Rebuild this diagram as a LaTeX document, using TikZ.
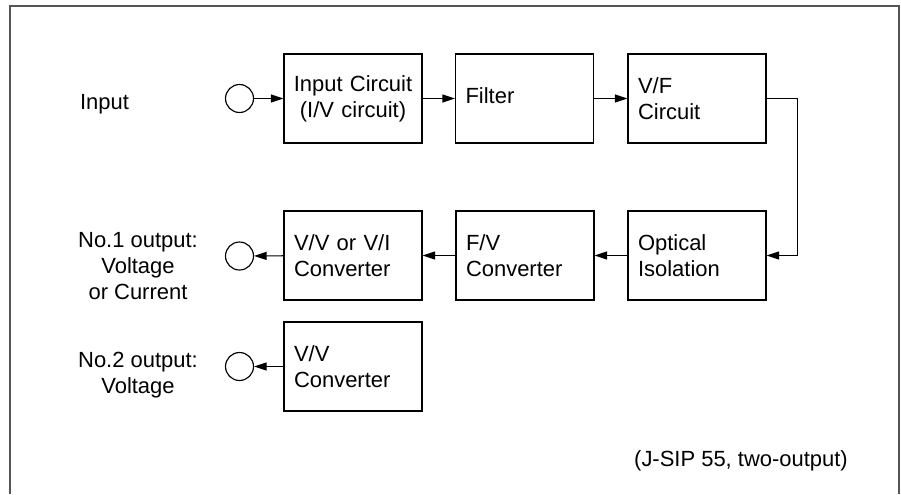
\documentclass[tikz,border=0pt]{standalone}
\usepackage{fontspec}
\setmainfont{Liberation Sans}
\usetikzlibrary{arrows.meta}
\definecolor{framegray}{HTML}{555555}

\begin{document}
\begin{tikzpicture}[x=0.02cm, y=-0.02cm,
  n/.style={draw, line width=0.65pt, minimum width=2.76cm, minimum height=1.78cm, text width=2.36cm, inner xsep=0.2cm, align=left, font=\fontsize{12.5}{14.6}\selectfont},
  port/.style={draw, circle, line width=0.65pt, minimum size=0.56cm, inner sep=0pt},
  lbl/.style={align=center, font=\fontsize{12.5}{14.6}\selectfont},
  arrow/.style={-{Triangle[length=2.5mm, width=1.6mm]}, line width=0.65pt}
]
  \useasboundingbox (0,0) rectangle (901,494);
  \draw[framegray, line width=1.1pt] (10,494) -- (10,6) -- (899,6) -- (899,494);

  \node[lbl] (inlbl) at (104.5,104) {Input};
  \node[port] (inport) at (239.5,98.5) {};
  \node[n, text width=2.6cm, inner xsep=0.08cm, align=center] (incirc) at (353,98.5) {Input Circuit\\(I/V circuit)};
  \node[n] (filter) at (524.5,98.5) {\strut Filter};
  \node[n] (vf) at (697,98.5) {V/F\\Circuit};

  \node[n] (opto) at (697,255.5) {Optical\\Isolation};
  \node[n] (fv) at (525,255.5) {F/V\\Converter};
  \node[n] (vvi) at (353,255.5) {V/V or V/I\\Converter};
  \node[port] (out1) at (239.5,256) {};
  \node[lbl] (out1lbl) at (138,266) {No.1 output:\\Voltage\\or Current};

  \node[n] (vv) at (353,366.5) {V/V\\Converter};
  \node[port] (out2) at (239.5,366.5) {};
  \node[lbl] (out2lbl) at (138,375) {No.2 output:\\Voltage};

  \node[lbl, anchor=east] (note) at (854,461) {(J-SIP 55, two-output)};

  \draw[arrow] (inport) -- (incirc);
  \draw[arrow] (incirc) -- (filter);
  \draw[arrow] (filter) -- (vf);
  \draw[arrow] (vf.east) -- ++(31,0) |- (opto.east);
  \draw[arrow] (opto) -- (fv);
  \draw[arrow] (fv) -- (vvi);
  \draw[arrow] (vvi) -- (out1);
  \draw[arrow] (vv) -- (out2);
\end{tikzpicture}
\end{document}
